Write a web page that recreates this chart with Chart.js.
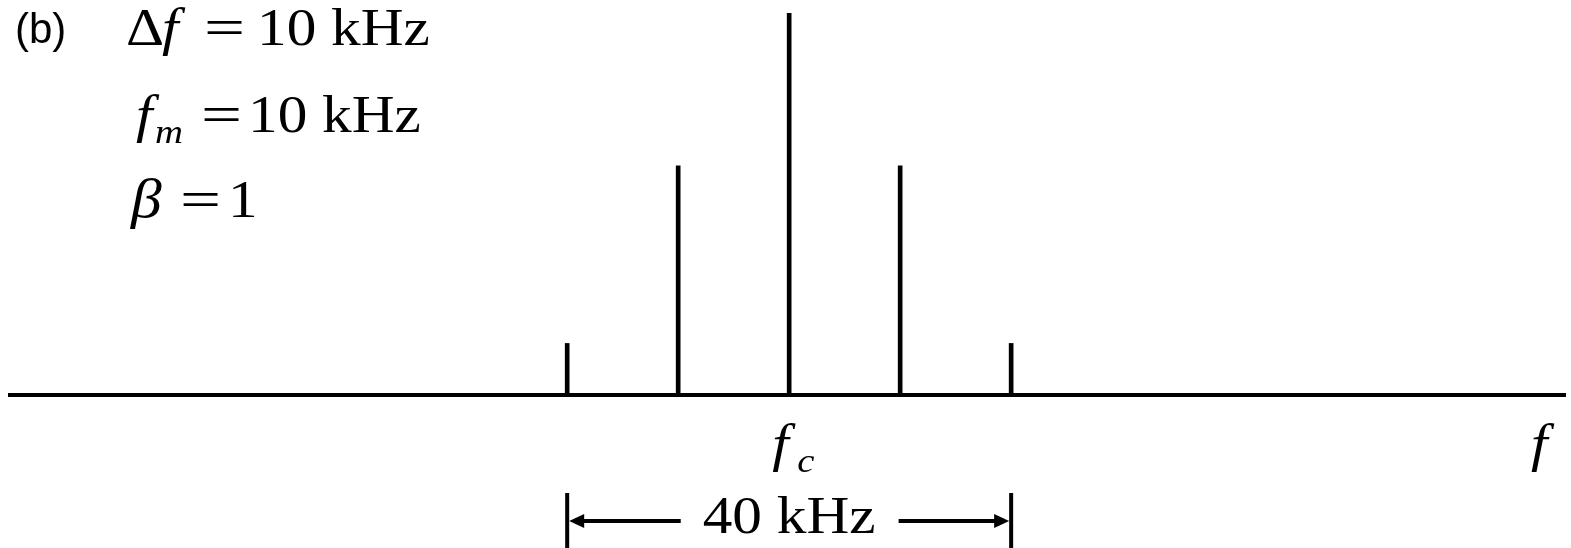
<!DOCTYPE html>
<html>
<head>
<meta charset="utf-8">
<script src="https://cdn.jsdelivr.net/npm/chart.js@4.4.0/dist/chart.umd.min.js"></script>
<style>
  html, body { margin: 0; padding: 0; background: #fff; }
  #box { width: 1571px; height: 548px; position: relative; }
</style>
</head>
<body>
<div id="box"><canvas id="spectrum"></canvas></div>
<script>
// FM spectrum, beta = 1: carrier plus two pairs of side lines
const offsets = [-20, -10, 0, 10, 20];          // kHz from fc
const amplitudes = [0.135, 0.60, 1.0, 0.60, 0.135];
const span = 40;                                // kHz, marked under the axis

const serif = "'Liberation Serif', 'Times New Roman', serif";
const stretch = 1.14;                            // serif text is drawn a bit wide

function txt(ctx, s, x, y, font, sx) {
    ctx.save();
    ctx.font = font;
    ctx.translate(x, y);
    ctx.scale(sx || stretch, 1);
    ctx.fillText(s, 0, 0);
    ctx.restore();
}

function txtWidth(ctx, s, font) {
    ctx.save();
    ctx.font = font;
    const w = ctx.measureText(s).width * stretch;
    ctx.restore();
    return w;
}

// text, labels and the bandwidth arrow
const notes = {
    id: "notes",
    afterDraw(chart) {
        const { ctx, scales: { x } } = chart;
        const big = "52px " + serif;
        const bigIt = "italic 52px " + serif;
        const smallIt = "italic 34px " + serif;
        const eqStretch = 1.4;
        ctx.save();
        ctx.fillStyle = "#000";
        ctx.strokeStyle = "#000";
        ctx.textBaseline = "alphabetic";

        ctx.font = "42px 'Liberation Sans', Arial, sans-serif";
        ctx.fillText("(b)", 15, 43);

        // Δf = 10 kHz
        txt(ctx, "Δ", 126, 45, big);
        txt(ctx, "f", 162, 45, bigIt);
        txt(ctx, "=", 204, 45, big, eqStretch);
        txt(ctx, "10 kHz", 257, 45, big);

        // fm = 10 kHz
        txt(ctx, "f", 136, 132, bigIt);
        txt(ctx, "m", 155, 143, smallIt);
        txt(ctx, "=", 201, 132, big, eqStretch);
        txt(ctx, "10 kHz", 248, 132, big);

        // β = 1
        txt(ctx, "β", 131, 217, "italic 54px " + serif);
        txt(ctx, "=", 180, 217, big, eqStretch);
        txt(ctx, "1", 228, 217, big);

        // axis labels
        const xc = x.getPixelForValue(0);
        txt(ctx, "f", xc - 17, 461, bigIt);
        txt(ctx, "c", xc + 8, 472, smallIt);
        txt(ctx, "f", 1531, 461, bigIt);

        // bandwidth marker
        const xl = x.getPixelForValue(-span / 2);
        const xr = x.getPixelForValue(span / 2);
        const ya = 521;
        ctx.lineWidth = 4;
        ctx.beginPath();
        ctx.moveTo(xl, 493); ctx.lineTo(xl, 548);
        ctx.moveTo(xr, 493); ctx.lineTo(xr, 548);
        ctx.stroke();

        const label = span + " kHz";
        const w = txtWidth(ctx, label, big);
        const tl = xc - w / 2;
        const tr = xc + w / 2;
        txt(ctx, label, tl, 533, big);

        ctx.beginPath();
        ctx.moveTo(xl + 14, ya); ctx.lineTo(tl - 22, ya);
        ctx.moveTo(tr + 23, ya); ctx.lineTo(xr - 14, ya);
        ctx.stroke();

        // arrow heads
        ctx.beginPath();
        ctx.moveTo(xl + 2, ya); ctx.lineTo(xl + 17, ya - 7); ctx.lineTo(xl + 17, ya + 7);
        ctx.closePath();
        ctx.moveTo(xr - 2, ya); ctx.lineTo(xr - 17, ya - 7); ctx.lineTo(xr - 17, ya + 7);
        ctx.closePath();
        ctx.fill();

        ctx.restore();
    }
};

new Chart(document.getElementById("spectrum"), {
    type: "bar",
    data: {
        datasets: [{
            data: offsets.map((f, i) => ({ x: f, y: amplitudes[i] })),
            backgroundColor: "#000",
            borderWidth: 0,
            barThickness: 4,
            grouped: false
        }]
    },
    options: {
        responsive: true,
        maintainAspectRatio: false,
        animation: false,
        layout: { padding: { left: 10, right: 6, top: 13, bottom: 153 } },
        plugins: { legend: { display: false }, tooltip: { enabled: false } },
        scales: {
            x: {
                type: "linear",
                offset: false,
                min: -70.2,
                max: 69.9,
                ticks: { display: false },
                grid: { display: false, drawTicks: false, offset: false },
                border: { display: true, color: "#000", width: 4 },
                afterFit(s) { s.height = 0; }
            },
            y: {
                display: false,
                min: 0,
                max: 1
            }
        }
    },
    plugins: [notes]
});
</script>
</body>
</html>
